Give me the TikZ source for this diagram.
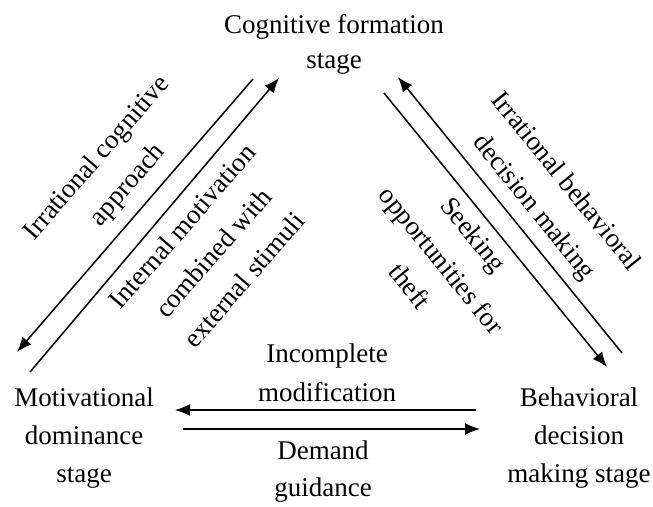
\documentclass[tikz,border=0pt]{standalone}
\usepackage{fontspec}
\setmainfont{Liberation Serif}
\usetikzlibrary{arrows.meta}
\begin{document}
\begin{tikzpicture}[x=1pt,y=-1pt,
  txt/.style={align=center,inner sep=0pt,font=\fontsize{27}{38}\selectfont},
  rtxt/.style={align=center,inner sep=0pt,font=\fontsize{27}{41}\selectfont},
  arr/.style={line width=1.5pt,-{Latex[length=15pt,width=12pt]}}]
\useasboundingbox (0,0) rectangle (653,506);
\fill[white] (0,0) rectangle (653,506);
\node[txt,font=\fontsize{27}{35}\selectfont] (top) at (334,44) {Cognitive formation\\stage};
\node[txt] (left) at (84,438) {Motivational\\dominance\\stage};
\node[txt] (right) at (579,438) {Behavioral\\decision\\making stage};
% left diagonal
\coordinate (a1) at (253,79);
\coordinate (a2) at (17,352);
\coordinate (b1) at (30,372);
\coordinate (b2) at (279,78);
\draw[arr] (a1) -- (a2);
\draw[arr] (b1) -- (b2);
% right diagonal
\coordinate (c1) at (622,353);
\coordinate (c2) at (398,77);
\coordinate (d1) at (384,93);
\coordinate (d2) at (607,367);
\draw[arr] (c1) -- (c2);
\draw[arr] (d1) -- (d2);
% horizontal
\coordinate (e1) at (476,410);
\coordinate (e2) at (175,410);
\coordinate (f1) at (183,429);
\coordinate (f2) at (480,429);
\draw[arr] (e1) -- (e2);
\draw[arr] (f1) -- (f2);
% labels
\node[rtxt,rotate=49] (l1) at (113,172) {Irrational cognitive\\approach};
\node[rtxt,rotate=49] (l2) at (213,253) {Internal motivation\\combined with\\external stimuli};
\node[rtxt,rotate=-51] (l3) at (549,195) {Irrational behavioral\\decision making};
\node[rtxt,rotate=-51] (l4) at (442,260) {Seeking\\opportunities for\\theft};
\node[txt,font=\fontsize{27}{39}\selectfont] (l5) at (327,373) {Incomplete\\modification};
\node[txt,font=\fontsize{27}{37}\selectfont] (l6) at (323,472) {Demand\\guidance};
\end{tikzpicture}
\end{document}
